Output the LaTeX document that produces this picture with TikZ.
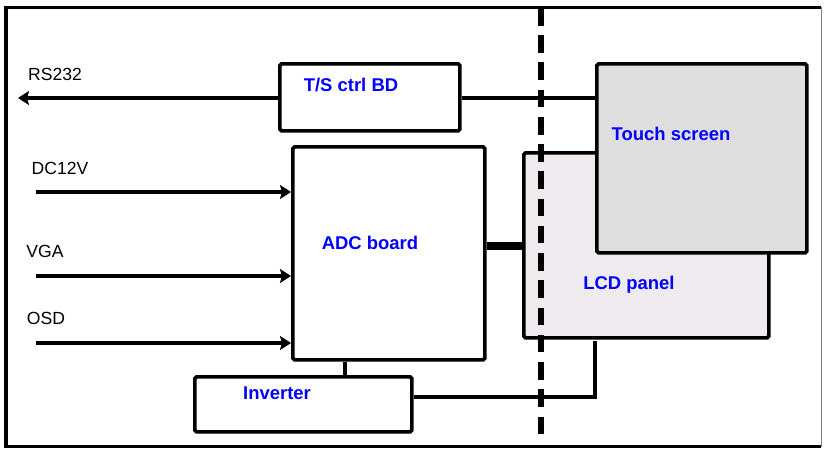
\documentclass[tikz,border=0pt]{standalone}
\usepackage{fontspec}
\setmainfont{Liberation Sans}
\usetikzlibrary{calc,arrows.meta}
\definecolor{lcdfill}{RGB}{238,234,238}
\definecolor{tsfill}{RGB}{222,222,222}

\begin{document}
\begin{tikzpicture}[x=0.2mm,y=-0.2mm,>={Stealth[length=2.2mm,width=2.8mm,inset=0.4mm]},
    blk/.style={draw,line width=2.1pt,rounded corners=1pt,inner sep=0pt,anchor=north west},
    blbl/.style={text=blue,font=\fontsize{10.5}{12}\selectfont\bfseries,inner sep=0pt},
    sig/.style={font=\fontsize{10}{12}\selectfont,inner sep=0pt},
    wire/.style={line width=2.1pt},
    feed/.style={->,line width=2.8pt},
    cutline/.style={line width=3pt,dash pattern=on 10pt off 5.5pt}]
  \useasboundingbox (0,0) rectangle (824,448);
  % frame
  \draw[line width=2pt] (821,7.5) -- (6,7.5) -- (6,446.5) -- (821,446.5);
  \draw[gray,line width=0.6pt] (821.5,7) -- (821.5,447);
  % panels
  \node[blk,fill=lcdfill,minimum width=49mm,minimum height=37mm] (lcd) at (522,151) {};
  \node[blk,fill=tsfill,minimum width=42mm,minimum height=37.8mm] (touch) at (595,62) {};
  % boards
  \node[blk,minimum width=36mm,minimum height=13.4mm] (tsbd) at (278,62) {};
  \node[blk,minimum width=38.4mm,minimum height=42.6mm] (adc) at (291,145) {};
  \node[blk,minimum width=43.4mm,minimum height=11mm] (inv) at (193,375) {};
  % labels
  \node[blbl] (tsbd-txt) at (351,85) {T/S ctrl BD};
  \node[blbl] (touch-txt) at (671,134) {Touch screen};
  \node[blbl] (lcd-txt) at (629,285) {LCD panel};
  \node[blbl] (adc-txt) at (370,243) {ADC board};
  \node[blbl] (inv-txt) at (277,393) {Inverter};
  \node[sig] (rs-txt) at (55,74) {RS232};
  \node[sig] (dc-txt) at (60,168) {DC12V};
  \node[sig] (vga-txt) at (45,251) {VGA};
  \node[sig] (osd-txt) at (46,318) {OSD};
  % wire ends
  \coordinate (rsend) at (18,98);
  \coordinate (dcin) at (36,192);
  \coordinate (vgain) at (36,276);
  \coordinate (osdin) at (36,343);
  \coordinate (bus) at (500,246);
  \coordinate (invtap) at (345,366);
  \coordinate (invout) at (500,397);
  \coordinate (lcdtap) at (595,341);
  \coordinate (cuttop) at (541,8);
  \coordinate (cutbot) at (541,437);
  % connections
  \draw[feed] (tsbd.west |- rsend) -- (rsend);
  \draw[wire] (tsbd.east |- rsend) -- (touch.west |- rsend);
  \draw[feed] (dcin) -- (adc.west |- dcin);
  \draw[feed] (vgain) -- (adc.west |- vgain);
  \draw[feed] (osdin) -- (adc.west |- osdin);
  \draw[line width=5pt] (adc.east |- bus) -- (lcd.west |- bus);
  \draw[wire] (adc.south -| invtap) -- (inv.north -| invtap);
  \draw[wire] (inv.east |- invout) -| (lcdtap);
  \draw[cutline] (cuttop) -- (cutbot);
\end{tikzpicture}
\end{document}
